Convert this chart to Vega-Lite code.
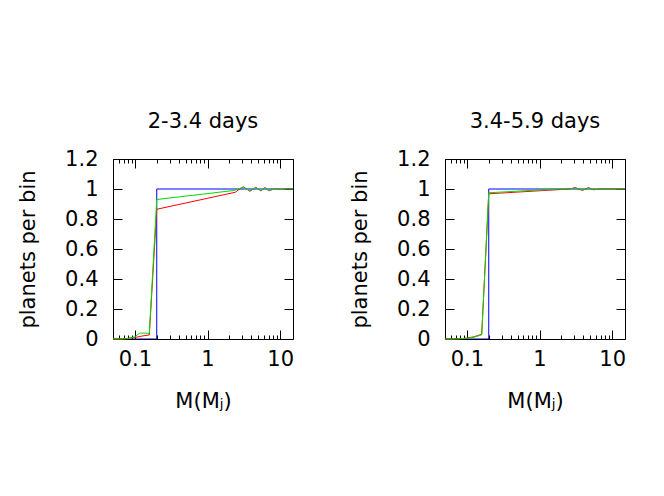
{
  "$schema": "https://vega.github.io/schema/vega-lite/v6.json",
  "background": "white",
  "padding": {"left": 17, "top": 110, "right": 5, "bottom": 5},
  "config": {
    "font": "DejaVu Sans",
    "view": {"stroke": "black", "strokeWidth": 1},
    "axis": {"grid": false, "domain": false, "labelFont": "DejaVu Sans", "titleFont": "DejaVu Sans", "labelFontSize": 21, "titleFontSize": 21, "titleFontWeight": "normal", "labelColor": "black", "titleColor": "black", "tickColor": "black"},
    "title": {"font": "DejaVu Sans", "fontSize": 21, "fontWeight": "normal", "color": "black"}
  },
  "datasets": {
    "rows": [
      {"p": 1, "s": "blue", "i": 1, "m": 0.05, "f": 0},
      {"p": 1, "s": "blue", "i": 2, "m": 0.2, "f": 0},
      {"p": 1, "s": "blue", "i": 3, "m": 0.2, "f": 1},
      {"p": 1, "s": "blue", "i": 4, "m": 15, "f": 1},
      {"p": 1, "s": "red", "i": 1, "m": 0.05, "f": 0},
      {"p": 1, "s": "red", "i": 2, "m": 0.063, "f": 0},
      {"p": 1, "s": "red", "i": 3, "m": 0.079, "f": 0.004},
      {"p": 1, "s": "red", "i": 4, "m": 0.1, "f": 0.01},
      {"p": 1, "s": "red", "i": 5, "m": 0.126, "f": 0.02},
      {"p": 1, "s": "red", "i": 6, "m": 0.158, "f": 0.027},
      {"p": 1, "s": "red", "i": 7, "m": 0.2, "f": 0.865},
      {"p": 1, "s": "red", "i": 8, "m": 2.4, "f": 0.978},
      {"p": 1, "s": "red", "i": 9, "m": 2.65, "f": 0.993},
      {"p": 1, "s": "red", "i": 10, "m": 3.1, "f": 1.015},
      {"p": 1, "s": "red", "i": 11, "m": 3.83, "f": 0.985},
      {"p": 1, "s": "red", "i": 12, "m": 4.63, "f": 1.012},
      {"p": 1, "s": "red", "i": 13, "m": 5.43, "f": 0.987},
      {"p": 1, "s": "red", "i": 14, "m": 6.17, "f": 1.01},
      {"p": 1, "s": "red", "i": 15, "m": 7.0, "f": 0.988},
      {"p": 1, "s": "red", "i": 16, "m": 8.46, "f": 1.003},
      {"p": 1, "s": "red", "i": 17, "m": 10.4, "f": 0.997},
      {"p": 1, "s": "red", "i": 18, "m": 12.7, "f": 1.003},
      {"p": 1, "s": "red", "i": 19, "m": 15, "f": 1.0},
      {"p": 1, "s": "green", "i": 1, "m": 0.05, "f": 0},
      {"p": 1, "s": "green", "i": 2, "m": 0.063, "f": 0},
      {"p": 1, "s": "green", "i": 3, "m": 0.079, "f": 0.002},
      {"p": 1, "s": "green", "i": 4, "m": 0.1, "f": 0.015},
      {"p": 1, "s": "green", "i": 5, "m": 0.117, "f": 0.04},
      {"p": 1, "s": "green", "i": 6, "m": 0.158, "f": 0.038},
      {"p": 1, "s": "green", "i": 7, "m": 0.2, "f": 0.93},
      {"p": 1, "s": "green", "i": 8, "m": 2.3, "f": 0.99},
      {"p": 1, "s": "green", "i": 9, "m": 2.65, "f": 1.0},
      {"p": 1, "s": "green", "i": 10, "m": 3.1, "f": 1.012},
      {"p": 1, "s": "green", "i": 11, "m": 3.83, "f": 0.988},
      {"p": 1, "s": "green", "i": 12, "m": 4.63, "f": 1.01},
      {"p": 1, "s": "green", "i": 13, "m": 5.43, "f": 0.99},
      {"p": 1, "s": "green", "i": 14, "m": 6.17, "f": 1.006},
      {"p": 1, "s": "green", "i": 15, "m": 7.0, "f": 0.99},
      {"p": 1, "s": "green", "i": 16, "m": 8.46, "f": 1.002},
      {"p": 1, "s": "green", "i": 17, "m": 10.4, "f": 0.998},
      {"p": 1, "s": "green", "i": 18, "m": 12.7, "f": 1.0},
      {"p": 1, "s": "green", "i": 19, "m": 15, "f": 1.0},
      {"p": 2, "s": "blue", "i": 1, "m": 0.05, "f": 0},
      {"p": 2, "s": "blue", "i": 2, "m": 0.2, "f": 0},
      {"p": 2, "s": "blue", "i": 3, "m": 0.2, "f": 1},
      {"p": 2, "s": "blue", "i": 4, "m": 15, "f": 1},
      {"p": 2, "s": "red", "i": 1, "m": 0.05, "f": 0},
      {"p": 2, "s": "red", "i": 2, "m": 0.063, "f": 0},
      {"p": 2, "s": "red", "i": 3, "m": 0.079, "f": 0.002},
      {"p": 2, "s": "red", "i": 4, "m": 0.1, "f": 0.006},
      {"p": 2, "s": "red", "i": 5, "m": 0.126, "f": 0.015},
      {"p": 2, "s": "red", "i": 6, "m": 0.16, "f": 0.032},
      {"p": 2, "s": "red", "i": 7, "m": 0.2, "f": 0.968},
      {"p": 2, "s": "red", "i": 8, "m": 1.72, "f": 0.995},
      {"p": 2, "s": "red", "i": 9, "m": 2.6, "f": 1.0},
      {"p": 2, "s": "red", "i": 10, "m": 3.1, "f": 1.01},
      {"p": 2, "s": "red", "i": 11, "m": 3.9, "f": 0.99},
      {"p": 2, "s": "red", "i": 12, "m": 4.7, "f": 1.01},
      {"p": 2, "s": "red", "i": 13, "m": 5.5, "f": 0.995},
      {"p": 2, "s": "red", "i": 14, "m": 7.0, "f": 1.0},
      {"p": 2, "s": "red", "i": 15, "m": 15, "f": 1.0},
      {"p": 2, "s": "green", "i": 1, "m": 0.05, "f": 0},
      {"p": 2, "s": "green", "i": 2, "m": 0.063, "f": 0},
      {"p": 2, "s": "green", "i": 3, "m": 0.079, "f": 0.001},
      {"p": 2, "s": "green", "i": 4, "m": 0.1, "f": 0.005},
      {"p": 2, "s": "green", "i": 5, "m": 0.126, "f": 0.012},
      {"p": 2, "s": "green", "i": 6, "m": 0.16, "f": 0.028},
      {"p": 2, "s": "green", "i": 7, "m": 0.2, "f": 0.975},
      {"p": 2, "s": "green", "i": 8, "m": 1.72, "f": 1.0},
      {"p": 2, "s": "green", "i": 9, "m": 2.6, "f": 1.0},
      {"p": 2, "s": "green", "i": 10, "m": 3.1, "f": 1.006},
      {"p": 2, "s": "green", "i": 11, "m": 3.9, "f": 0.995},
      {"p": 2, "s": "green", "i": 12, "m": 4.7, "f": 1.004},
      {"p": 2, "s": "green", "i": 13, "m": 5.5, "f": 0.998},
      {"p": 2, "s": "green", "i": 14, "m": 7.0, "f": 1.0},
      {"p": 2, "s": "green", "i": 15, "m": 15, "f": 1.0}
    ]
  },
  "spacing": 53,
  "hconcat": [
    {
      "width": 180, "height": 180,
      "data": {"name": "rows"},
      "transform": [{"filter": "datum.p == 1"}],
      "title": {"text": "2-3.4 days", "offset": 16},
      "resolve": {"axis": {"x": "independent", "y": "independent"}},
      "layer": [
        {
          "transform": [{"filter": "datum.s == 'blue'"}],
          "mark": {"type": "line", "color": "#0000ff", "strokeWidth": 1, "clip": true},
          "encoding": {
            "x": {"field": "m", "type": "quantitative", "scale": {"type": "log", "domain": [0.05, 15], "nice": false},
              "axis": {"orient": "bottom", "title": "M(Mⱼ)", "values": [0.05,0.06,0.07,0.08,0.09,0.1,0.2,0.3,0.4,0.5,0.6,0.7,0.8,0.9,1,2,3,4,5,6,7,8,9,10],
                "labelExpr": "datum.value == 0.1 ? '0.1' : datum.value == 1 ? '1' : datum.value == 10 ? '10' : ''",
                "tickSize": {"condition": {"test": "datum.value == 0.1 || datum.value == 1 || datum.value == 10", "value": -9}, "value": -4},
                "labelPadding": 18, "titlePadding": 16, "labelFlush": false, "labelOverlap": false}},
            "y": {"field": "f", "type": "quantitative", "scale": {"domain": [0, 1.2], "nice": false},
              "axis": {"orient": "left", "title": "planets per bin", "values": [0,0.2,0.4,0.6,0.8,1,1.2], "format": "~g", "tickSize": -9, "labelPadding": 24, "titlePadding": 26, "labelFlush": false, "labelOverlap": false}},
            "order": {"field": "i", "type": "quantitative"}
          }
        },
        {
          "transform": [{"filter": "datum.s == 'red'"}],
          "mark": {"type": "line", "color": "#ff0000", "strokeWidth": 1},
          "encoding": {
            "x": {"field": "m", "type": "quantitative", "scale": {"type": "log", "domain": [0.05, 15], "nice": false}, "axis": null},
            "y": {"field": "f", "type": "quantitative", "scale": {"domain": [0, 1.2], "nice": false}, "axis": null},
            "order": {"field": "i", "type": "quantitative"}
          }
        },
        {
          "transform": [{"filter": "datum.s == 'green'"}],
          "mark": {"type": "line", "color": "#00dd00", "strokeWidth": 1},
          "encoding": {
            "x": {"field": "m", "type": "quantitative", "scale": {"type": "log", "domain": [0.05, 15], "nice": false},
              "axis": {"orient": "top", "title": null, "values": [0.05,0.06,0.07,0.08,0.09,0.1,0.2,0.3,0.4,0.5,0.6,0.7,0.8,0.9,1,2,3,4,5,6,7,8,9,10], "labels": false,
                "tickSize": {"condition": {"test": "datum.value == 0.1 || datum.value == 1 || datum.value == 10", "value": -9}, "value": -4}}},
            "y": {"field": "f", "type": "quantitative", "scale": {"domain": [0, 1.2], "nice": false},
              "axis": {"orient": "right", "title": null, "values": [0,0.2,0.4,0.6,0.8,1,1.2], "labels": false, "tickSize": -9}},
            "order": {"field": "i", "type": "quantitative"}
          }
        }
      ]
    },
    {
      "width": 180, "height": 180,
      "data": {"name": "rows"},
      "transform": [{"filter": "datum.p == 2"}],
      "title": {"text": "3.4-5.9 days", "offset": 16},
      "resolve": {"axis": {"x": "independent", "y": "independent"}},
      "layer": [
        {
          "transform": [{"filter": "datum.s == 'blue'"}],
          "mark": {"type": "line", "color": "#0000ff", "strokeWidth": 1, "clip": true},
          "encoding": {
            "x": {"field": "m", "type": "quantitative", "scale": {"type": "log", "domain": [0.05, 15], "nice": false},
              "axis": {"orient": "bottom", "title": "M(Mⱼ)", "values": [0.05,0.06,0.07,0.08,0.09,0.1,0.2,0.3,0.4,0.5,0.6,0.7,0.8,0.9,1,2,3,4,5,6,7,8,9,10],
                "labelExpr": "datum.value == 0.1 ? '0.1' : datum.value == 1 ? '1' : datum.value == 10 ? '10' : ''",
                "tickSize": {"condition": {"test": "datum.value == 0.1 || datum.value == 1 || datum.value == 10", "value": -9}, "value": -4},
                "labelPadding": 18, "titlePadding": 16, "labelFlush": false, "labelOverlap": false}},
            "y": {"field": "f", "type": "quantitative", "scale": {"domain": [0, 1.2], "nice": false},
              "axis": {"orient": "left", "title": "planets per bin", "values": [0,0.2,0.4,0.6,0.8,1,1.2], "format": "~g", "tickSize": -9, "labelPadding": 24, "titlePadding": 26, "labelFlush": false, "labelOverlap": false}},
            "order": {"field": "i", "type": "quantitative"}
          }
        },
        {
          "transform": [{"filter": "datum.s == 'red'"}],
          "mark": {"type": "line", "color": "#ff0000", "strokeWidth": 1},
          "encoding": {
            "x": {"field": "m", "type": "quantitative", "scale": {"type": "log", "domain": [0.05, 15], "nice": false}, "axis": null},
            "y": {"field": "f", "type": "quantitative", "scale": {"domain": [0, 1.2], "nice": false}, "axis": null},
            "order": {"field": "i", "type": "quantitative"}
          }
        },
        {
          "transform": [{"filter": "datum.s == 'green'"}],
          "mark": {"type": "line", "color": "#00dd00", "strokeWidth": 1},
          "encoding": {
            "x": {"field": "m", "type": "quantitative", "scale": {"type": "log", "domain": [0.05, 15], "nice": false},
              "axis": {"orient": "top", "title": null, "values": [0.05,0.06,0.07,0.08,0.09,0.1,0.2,0.3,0.4,0.5,0.6,0.7,0.8,0.9,1,2,3,4,5,6,7,8,9,10], "labels": false,
                "tickSize": {"condition": {"test": "datum.value == 0.1 || datum.value == 1 || datum.value == 10", "value": -9}, "value": -4}}},
            "y": {"field": "f", "type": "quantitative", "scale": {"domain": [0, 1.2], "nice": false},
              "axis": {"orient": "right", "title": null, "values": [0,0.2,0.4,0.6,0.8,1,1.2], "labels": false, "tickSize": -9}},
            "order": {"field": "i", "type": "quantitative"}
          }
        }
      ]
    }
  ]
}
